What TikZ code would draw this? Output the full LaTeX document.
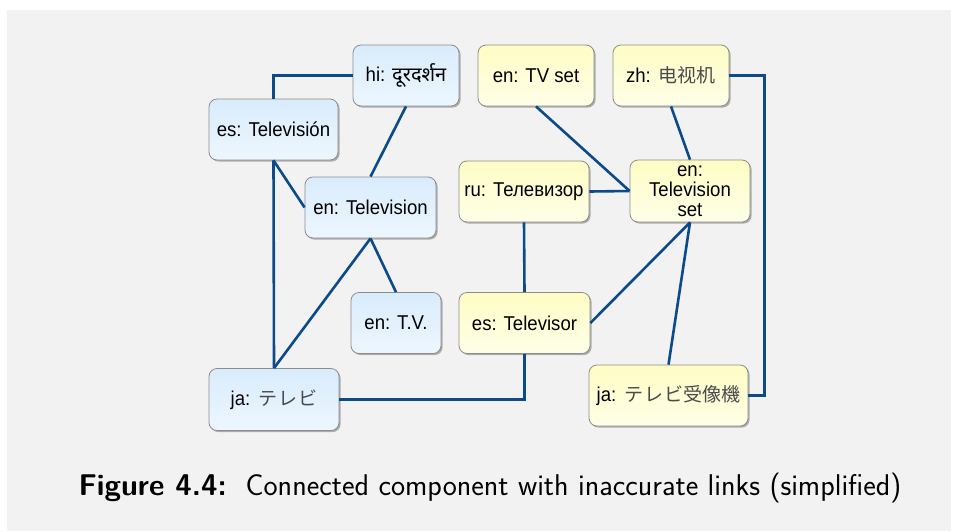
\documentclass[tikz,border=0pt]{standalone}
\usepackage{fontspec}
\usetikzlibrary{shadows}
\setsansfont{Latin Modern Sans}
\newfontfamily\nodefont[FakeStretch=0.93]{Liberation Sans}
\newfontfamily\hifont[Script=Devanagari]{Noto Sans}
\newfontfamily\jafont{Noto Sans CJK JP}
\newfontfamily\zhfont{Noto Sans CJK SC}
\definecolor{bgc}{HTML}{F2F2F2}
\definecolor{linec}{HTML}{0B4A8B}
\definecolor{bluetop}{HTML}{D9ECFC}
\definecolor{bluebot}{HTML}{EDF6FE}
\definecolor{yeltop}{HTML}{FEFDC4}
\definecolor{yelbot}{HTML}{FEFEE8}
\definecolor{borderc}{HTML}{8C8C8C}
\definecolor{cjkc}{HTML}{4A4A4A}
\tikzset{
  box/.style={rectangle, rounded corners=8pt, draw=borderc, line width=0.8pt,
    inner sep=0pt, minimum height=61pt, align=center,
    font=\nodefont\fontsize{20}{20}\selectfont,
    drop shadow={shadow xshift=1.6pt, shadow yshift=-1.6pt, fill=black!55, opacity=0.55}},
  bluebox/.style={box, top color=bluetop, bottom color=bluebot},
  yelbox/.style={box, top color=yeltop, bottom color=yelbot},
  link/.style={draw=linec, line width=2.6pt}
}
\begin{document}
\begin{tikzpicture}[x=1pt,y=-1pt]
\useasboundingbox (0,0) rectangle (957,531);
\fill[bgc] (7,10) rectangle (951,531);
% blue nodes
\node[bluebox, minimum width=106pt] (hi) at (406,75.5) {hi: {\hifont\fontsize{20}{20}\selectfont दूरदर्शन}};
\node[bluebox, minimum width=129pt] (esT) at (273.5,129.5) {es: Televisión};
\node[bluebox, minimum width=131pt] (enT) at (370.5,207.5) {en: Television};
\node[bluebox, minimum width=90pt] (enTV) at (396,323) {en: T.V.};
\node[bluebox, minimum width=130pt, minimum height=62pt] (jaT) at (274,399.5) {ja:\hspace{8pt}{\jafont\color{cjkc}\fontsize{19}{19}\selectfont テ\hspace{1pt}レ\hspace{1pt}ビ}};
% yellow nodes
\node[yelbox, minimum width=116pt] (tvset) at (536,75.5) {en: TV set};
\node[yelbox, minimum width=116pt] (zh) at (671,75.5) {zh:\hspace{8pt}{\zhfont\color{cjkc}\fontsize{19}{19}\selectfont 电视机}};
\node[yelbox, minimum width=130pt] (ru) at (524,191.5) {ru: Телевизор};
\node[yelbox, minimum width=120pt, minimum height=62pt] (tvs) at (690,191) {en:\\[0pt]Television\\[0pt]set};
\node[yelbox, minimum width=131pt] (esTor) at (524.5,323) {es: Televisor};
\node[yelbox, minimum width=159pt] (jaTV) at (668.5,395.5) {ja:\hspace{8pt}{\jafont\color{cjkc}\fontsize{19}{19}\selectfont テ\hspace{1pt}レ\hspace{1pt}ビ受像機}};
% links
\draw[link] (hi.west) -| (esT.north);
\draw[link] (hi.south) -- (enT.north);
\draw[link] (esT.south) -- (enT.west);
\draw[link] (esT.south) -- (jaT.north);
\draw[link] (enT.south) -- (jaT.north);
\draw[link] (enT.south) -- (enTV.north);
\draw[link] (tvset.south) -- (tvs.west);
\draw[link] (zh.south) -- (tvs.north);
\draw[link] (zh.east) -- ++(35,0) |- (jaTV.east);
\draw[link] (ru.east) -- (tvs.west);
\draw[link] (ru.south) -- (esTor.north);
\draw[link] (esTor.south) |- (jaT.east);
\draw[link] (esTor.east) -- (tvs.south);
\draw[link] (tvs.south) -- (jaTV.north);
% caption
\node[font=\sffamily\fontsize{30}{30}\selectfont, anchor=base] (cap) at (490,495) {\textbf{Figure 4.4:}\ \ Connected component with inaccurate links (simplified)};
\end{tikzpicture}
\end{document}
